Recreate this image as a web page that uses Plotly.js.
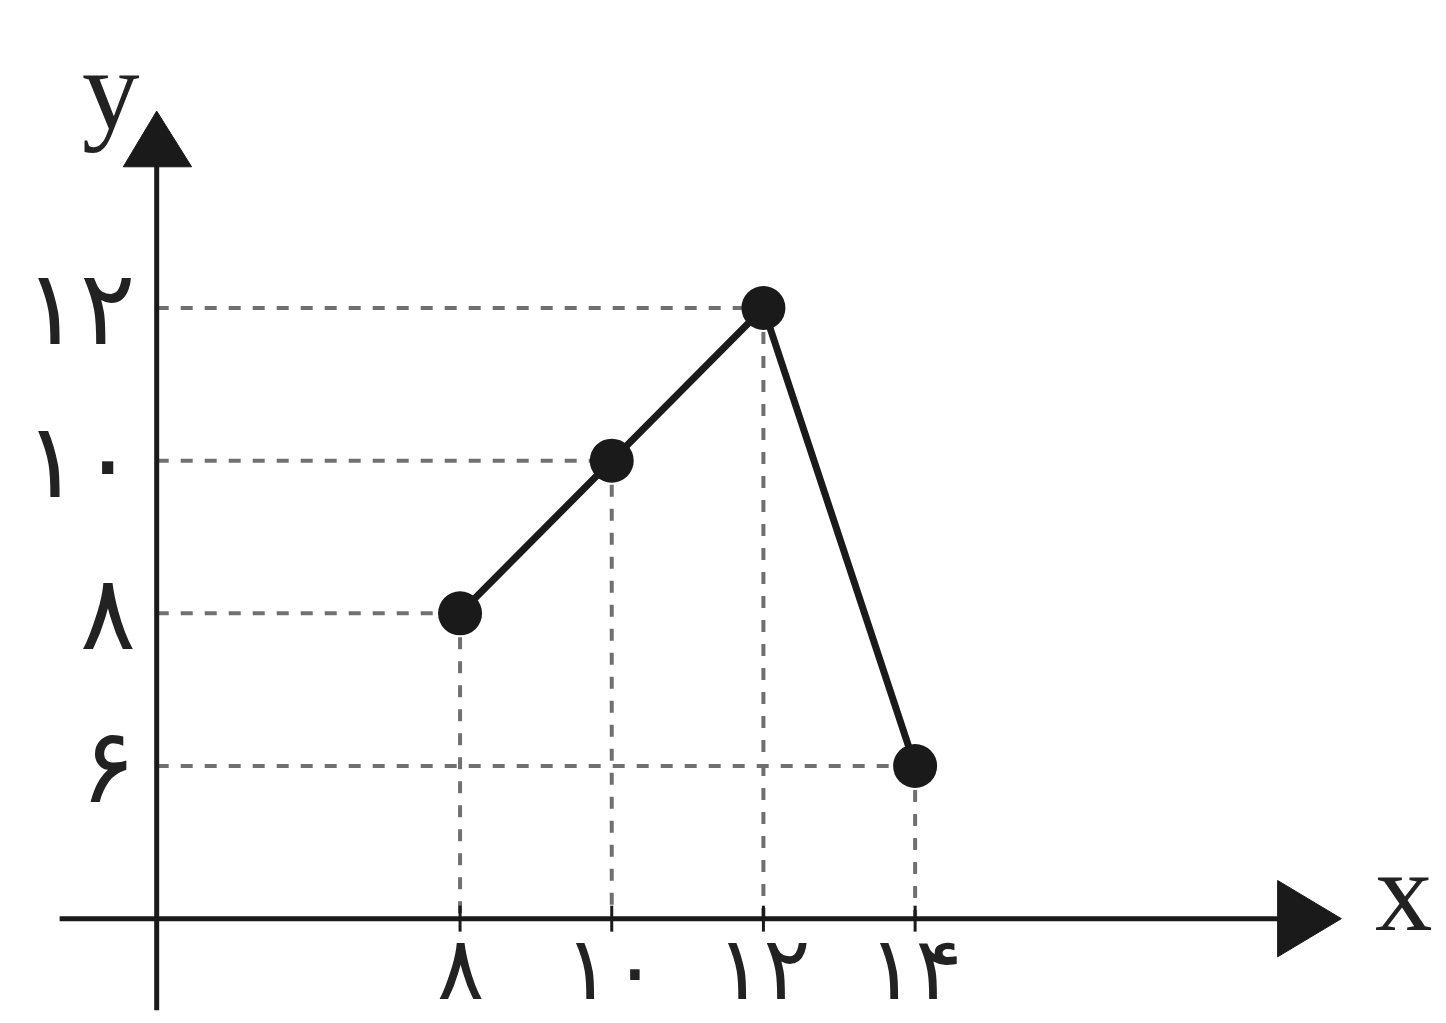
<!DOCTYPE html>
<html>
<head>
<meta charset="utf-8">
<script src="https://cdn.plot.ly/plotly-3.0.1.min.js"></script>
<style>
	html, body { margin: 0; padding: 0; background: #ffffff; }
	#chart { width: 1446px; height: 1023px; }
</style>
</head>
<body>
<div id="chart"></div>
<script>
// data points of the broken line
const xValues = [8, 10, 12, 14];
const yValues = [8, 10, 12, 6];

// tick labels (Persian digits)
const xTickVals = [8, 10, 12, 14];
const xTickText = ['۸', '۱۰', '۱۲', '۱۴'];
const yTickVals = [6, 8, 10, 12];
const yTickText = ['۶', '۸', '۱۰', '۱۲'];

// where the two drawn axes cross (the picture does not start at 0)
const originX = 4;
const originY = 4;

function buildChart(){
	const ink = '#1a1a1a';
	const dashColor = '#707070';

	const shapes = [];

	//dashed guide lines from each point to both axes
	for(var i = 0; i < xValues.length; i++){
		shapes.push({
			type: 'line', xref: 'x', yref: 'y',
			x0: originX, y0: yValues[i], x1: xValues[i], y1: yValues[i],
			line: { color: dashColor, width: 4, dash: 'dash' },
			layer: 'below'
		});
		shapes.push({
			type: 'line', xref: 'x', yref: 'y',
			x0: xValues[i], y0: yValues[i], x1: xValues[i], y1: originY,
			line: { color: dashColor, width: 4, dash: 'dash' },
			layer: 'below'
		});
	}

	//axis lines
	shapes.push({
		type: 'line', xref: 'x', yref: 'y',
		x0: 2.72, y0: originY, x1: 18.8, y1: originY,
		line: { color: ink, width: 5 }
	});
	shapes.push({
		type: 'line', xref: 'x', yref: 'y',
		x0: originX, y0: 2.8, x1: originX, y1: 13.9,
		line: { color: ink, width: 5 }
	});

	//arrow heads
	shapes.push({
		type: 'path', xref: 'x', yref: 'y',
		path: 'M 18.78 4.5 L 19.62 4 L 18.78 3.5 Z',
		fillcolor: ink, line: { color: ink, width: 1 }
	});
	shapes.push({
		type: 'path', xref: 'x', yref: 'y',
		path: 'M 3.56 13.85 L 4 14.58 L 4.46 13.85 Z',
		fillcolor: ink, line: { color: ink, width: 1 }
	});

	//small tick marks on the x axis
	for(var i = 0; i < xTickVals.length; i++){
		shapes.push({
			type: 'line', xref: 'x', yref: 'y',
			x0: xTickVals[i], y0: originY - 0.17, x1: xTickVals[i], y1: originY + 0.17,
			line: { color: ink, width: 3 }
		});
	}

	const annotations = [];
	const labelFamily = 'DejaVu Sans, Noto Sans, sans-serif';

	for(var i = 0; i < xTickVals.length; i++){
		annotations.push({
			x: xTickVals[i], y: 2.645, xref: 'x', yref: 'y',
			text: xTickText[i], showarrow: false,
			xanchor: 'center', yanchor: 'bottom',
			font: { family: labelFamily, size: 88, color: '#222222' }
		});
	}
	for(var i = 0; i < yTickVals.length; i++){
		annotations.push({
			x: originX - 0.25, y: yTickVals[i], xref: 'x', yref: 'y',
			text: yTickText[i], showarrow: false,
			xanchor: 'right', yanchor: 'middle',
			font: { family: labelFamily, size: 104, color: '#222222' }
		});
	}

	//axis names
	annotations.push({
		x: 3.4, y: 14.85, xref: 'x', yref: 'y',
		text: 'y', showarrow: false, xanchor: 'center', yanchor: 'middle',
		font: { family: 'Liberation Serif, DejaVu Serif, serif', size: 115, color: '#222222' }
	});
	annotations.push({
		x: 20.45, y: 4.35, xref: 'x', yref: 'y',
		text: 'x', showarrow: false, xanchor: 'center', yanchor: 'middle',
		font: { family: 'Liberation Serif, DejaVu Serif, serif', size: 115, color: '#222222' }
	});

	const traces = [
		{
			x: xValues,
			y: yValues,
			mode: 'lines+markers',
			type: 'scatter',
			showlegend: false,
			hoverinfo: 'skip',
			line: { color: ink, width: 7 },
			marker: { color: ink, size: 44 }
		}
	];

	const layout = {
		width: 1446,
		height: 1023,
		margin: { l: 0, r: 0, t: 0, b: 0 },
		paper_bgcolor: '#ffffff',
		plot_bgcolor: '#ffffff',
		showlegend: false,
		xaxis: {
			range: [1.934, 21.0],
			visible: false,
			fixedrange: true
		},
		yaxis: {
			range: [2.633, 16.035],
			visible: false,
			fixedrange: true
		},
		shapes: shapes,
		annotations: annotations
	};

	Plotly.newPlot('chart', traces, layout, { staticPlot: true });
}

buildChart();
</script>
</body>
</html>
